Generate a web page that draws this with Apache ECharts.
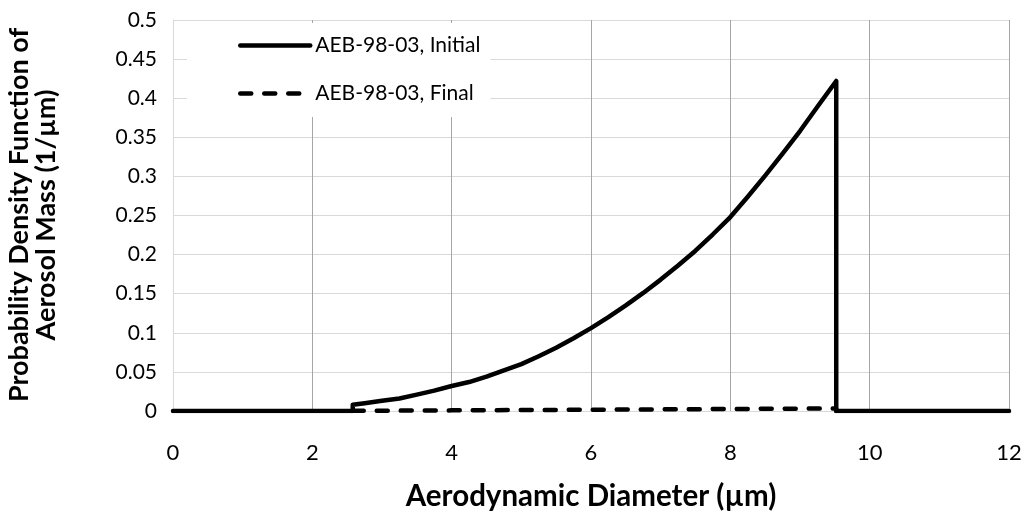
<!DOCTYPE html>
<html>
<head>
<meta charset="utf-8">
<script src="https://cdn.jsdelivr.net/npm/echarts@6/dist/echarts.min.js"></script>
<style>html,body{margin:0;padding:0;background:#fff}#c{width:1033px;height:523px}</style>
</head>
<body>
<div id="c"></div>
<script>
// Aerodynamic diameter (µm) and probability density (1/µm)
const initialX = [0, 2.58, 2.58, 2.75, 3, 3.25, 3.5, 3.75, 4, 4.25, 4.5, 4.75, 5, 5.25, 5.5, 5.75, 6, 6.25, 6.5, 6.75, 7, 7.25, 7.5, 7.75, 8, 8.25, 8.5, 8.75, 9, 9.25, 9.52, 9.52, 12];
const initialY = [0, 0, 0.008, 0.010, 0.013, 0.016, 0.021, 0.026, 0.032, 0.037, 0.044, 0.052, 0.060, 0.070, 0.081, 0.093, 0.106, 0.120, 0.135, 0.151, 0.168, 0.186, 0.205, 0.226, 0.248, 0.274, 0.301, 0.329, 0.358, 0.389, 0.422, 0, 0];
const finalX = [2.58, 4, 5, 6, 7, 8, 9, 9.52, 9.52];
const finalY = [0.0002, 0.0008, 0.0012, 0.0016, 0.0021, 0.0026, 0.003, 0.0033, 0];
const seriesNames = ['AEB-98-03, Initial', 'AEB-98-03, Final'];
const xTitle = 'Aerodynamic Diameter (µm)';
const yTitleLines = ['Probability Density Function of', 'Aerosol Mass (1/µm)'];

const FONT = 'Lato';
const zip = (xs, ys) => xs.map((x, i) => [x, ys[i]]);

const chart = echarts.init(document.getElementById('c'), null, {renderer: 'canvas'});
chart.setOption({
  animation: false,
  backgroundColor: '#fff',
  grid: {left: 173, right: 24, top: 20, bottom: 112},
  xAxis: {
    type: 'value', min: 0, max: 12, interval: 2,
    axisLine: {show: true, lineStyle: {color: '#d9d9d9', width: 1}},
    axisTick: {show: false},
    axisLabel: {color: '#000', fontFamily: FONT, fontSize: 22, margin: 31},
    splitLine: {show: true, showMinLine: false, lineStyle: {color: '#a6a6a6', width: 1}}
  },
  yAxis: {
    type: 'value', min: 0, max: 0.5, interval: 0.05,
    axisLine: {show: true, lineStyle: {color: '#d9d9d9', width: 1}},
    axisTick: {show: false},
    axisLabel: {color: '#000', fontFamily: FONT, fontSize: 21, margin: 16,
      formatter: v => String(Math.round(v * 100) / 100)},
    splitLine: {show: true, lineStyle: {color: '#d9d9d9', width: 1}}
  },
  legend: {
    left: 187, top: 23, orient: 'vertical',
    backgroundColor: '#fff',
    padding: [12, 10, 13, 51],
    itemGap: 27, itemWidth: 70, itemHeight: 20,
    itemStyle: {opacity: 0},
    lineStyle: {width: 4.5},
    textStyle: {color: '#000', fontFamily: FONT, fontSize: 21, lineHeight: 20},
    data: seriesNames
  },
  graphic: [{
    type: 'text', x: 33, y: 215, rotation: Math.PI / 2,
    style: {
      text: yTitleLines.join('\n'), fill: '#000',
      font: 'bold 27px ' + FONT, lineHeight: 27,
      align: 'center', verticalAlign: 'middle'
    }
  }, {
    type: 'text', x: 591, y: 496,
    style: {
      text: xTitle, fill: '#000',
      font: 'bold 29.5px ' + FONT,
      align: 'center', verticalAlign: 'middle'
    }
  }],
  series: [{
    name: seriesNames[0], type: 'line', symbol: 'none', z: 3,
    lineStyle: {color: '#000', width: 4.5, cap: 'round', join: 'round'},
    itemStyle: {color: '#000'},
    data: zip(initialX, initialY)
  }, {
    name: seriesNames[1], type: 'line', symbol: 'none', z: 4,
    lineStyle: {color: '#000', width: 4.5, type: [11, 13], cap: 'round', join: 'round'},
    itemStyle: {color: '#000'},
    data: zip(finalX, finalY)
  }]
});
</script>
</body>
</html>
